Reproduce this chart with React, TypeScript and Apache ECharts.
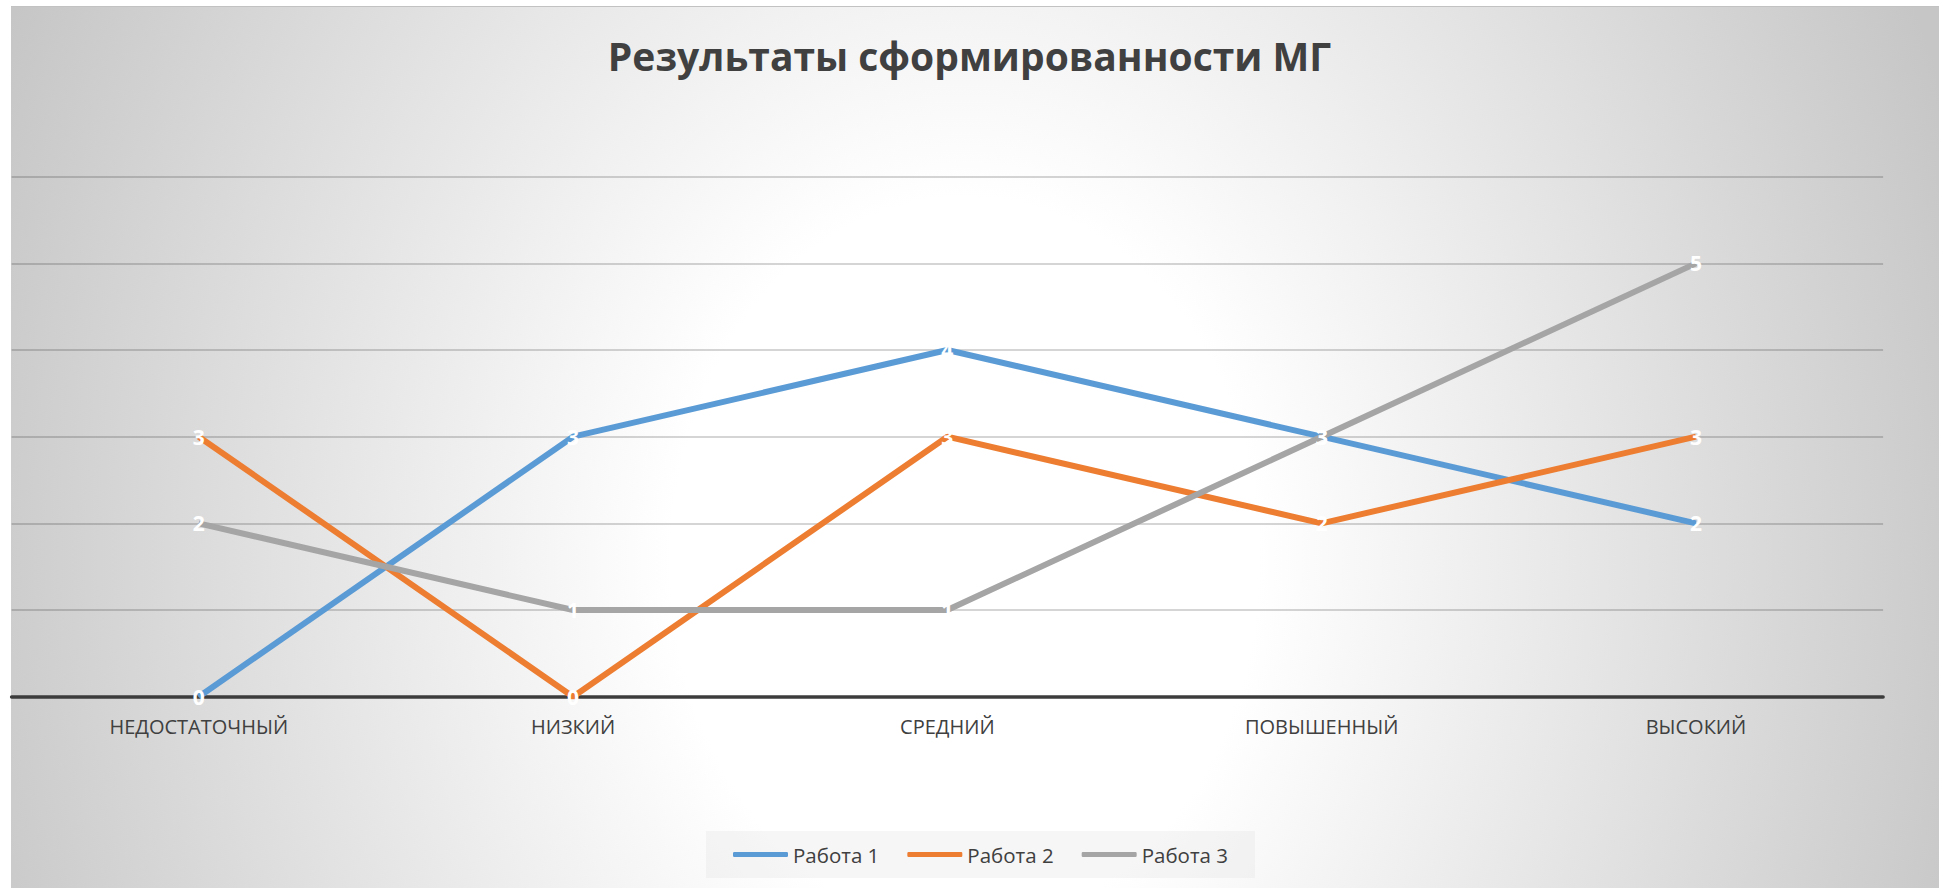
import React, { useEffect, useRef } from 'react';
import * as echarts from 'echarts';

const titleText = 'Результаты сформированности МГ';
const categories = ['НЕДОСТАТОЧНЫЙ', 'НИЗКИЙ', 'СРЕДНИЙ', 'ПОВЫШЕННЫЙ', 'ВЫСОКИЙ'];
const seriesNames = ['Работа 1', 'Работа 2', 'Работа 3'];
const work1 = [0, 3, 4, 3, 2];
const work2 = [3, 0, 3, 2, 3];
const work3 = [2, 1, 1, 3, 5];
const seriesColors = ['#5B9BD5', '#ED7D31', '#A5A5A5'];
const yMin = 0;
const yMax = 6;
const yStep = 1;

export default function App() {
  const ref = useRef<HTMLDivElement>(null);

  useEffect(() => {
    document.body.style.margin = '0';
    const chart = echarts.init(ref.current as HTMLDivElement, null, { renderer: 'svg' });
    const values = [work1, work2, work3];
    chart.setOption({
      animation: false,
      backgroundColor: 'transparent',
      title: {
        text: titleText,
        left: 'center',
        top: 36,
        padding: [0, 0, 0, 14],
        textStyle: {
          fontFamily: 'Open Sans',
          fontWeight: 'bold',
          fontSize: 39,
          color: '#404040',
        },
      },
      legend: {
        data: seriesNames,
        left: 706,
        top: 831,
        padding: [13, 27],
        itemWidth: 55,
        itemHeight: 5,
        itemGap: 28,
        icon: 'roundRect',
        backgroundColor: 'rgba(225,225,225,0.3)',
        textStyle: { fontFamily: 'Open Sans', fontSize: 20.5, color: '#404040' },
      },
      grid: { left: 11.6, right: 55.9, top: 176.7, bottom: 191.3, containLabel: false },
      xAxis: {
        type: 'category',
        data: categories,
        boundaryGap: true,
        axisLine: { show: true, lineStyle: { color: '#3c3c3c', width: 3.5 } },
        axisTick: { show: false },
        axisLabel: { margin: 20, fontFamily: 'Open Sans', fontSize: 20, color: '#404040' },
        splitLine: { show: false },
      },
      yAxis: {
        type: 'value',
        min: yMin,
        max: yMax,
        interval: yStep,
        axisLine: { show: false },
        axisTick: { show: false },
        axisLabel: { show: false },
        splitLine: { show: true, lineStyle: { color: 'rgba(0,0,0,0.22)', width: 1.5 } },
      },
      series: seriesNames.map((name, i) => ({
        name,
        type: 'line',
        data: values[i],
        symbol: 'circle',
        symbolSize: 1,
        showSymbol: true,
        color: seriesColors[i],
        itemStyle: { color: seriesColors[i] },
        lineStyle: { color: seriesColors[i], width: 6 },
        emphasis: { disabled: true },
        label: {
          show: true,
          position: 'inside',
          color: '#ffffff',
          fontFamily: 'Open Sans',
          fontWeight: 'bold',
          fontSize: 21,
        },
      })),
    });
    return () => chart.dispose();
  }, []);

  return (
    <div style={{ position: 'relative', width: 1939, height: 888, overflow: 'hidden', background: '#ffffff' }}>
      <div
        style={{
          position: 'absolute',
          left: 11,
          top: 6,
          right: 0,
          bottom: 0,
          borderTop: '1px solid #c2c2c2',
          background:
            'radial-gradient(ellipse 1050px 1300px at 954px 554px, #ffffff 0%, #ffffff 28%, #c6c6c6 100%)',
        }}
      />
      <div ref={ref} style={{ position: 'absolute', left: 0, top: 0, width: 1939, height: 888 }} />
    </div>
  );
}
